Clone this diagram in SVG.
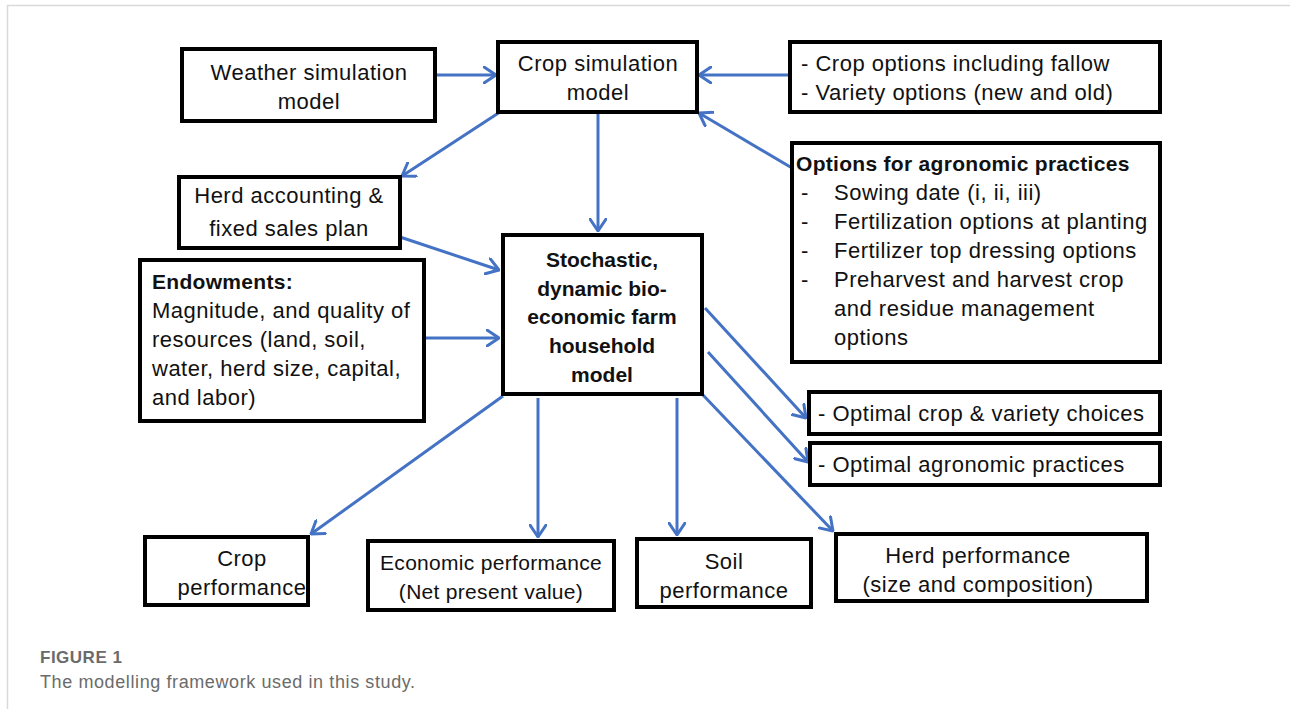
<svg xmlns="http://www.w3.org/2000/svg" width="1290" height="709" viewBox="0 0 1290 709">
<style>
.box{fill:#fff;stroke:#000;stroke-width:4}
.t{font-family:"Liberation Sans",Arial,sans-serif;font-size:22px;letter-spacing:0.5px;fill:#111}
.c{text-anchor:middle}
.b{font-weight:bold;font-size:21px;letter-spacing:0.3px}
.cb{font-weight:bold;font-size:21px;letter-spacing:0}
.conn line{stroke:#4472C4;stroke-width:3;marker-end:url(#ah)}
.cap{font-family:"Liberation Sans",Arial,sans-serif;fill:#6b6b6b}
</style>
<defs>
<marker id="ah" viewBox="0 0 14 18" refX="13" refY="9" markerWidth="14" markerHeight="18" markerUnits="userSpaceOnUse" orient="auto">
<path d="M1,1 L13,9 L1,17" fill="none" stroke="#4472C4" stroke-width="3" stroke-linecap="round" stroke-linejoin="round"/>
</marker>
</defs>
<rect width="1290" height="709" fill="#fff"/>
<path d="M7.5,709 V5.5 H1290" fill="none" stroke="#d9d9d9" stroke-width="1.5"/>

<g class="conn">
<line x1="435" y1="75" x2="496" y2="75"/>
<line x1="790" y1="75" x2="699" y2="75"/>
<line x1="792" y1="168" x2="699" y2="113"/>
<line x1="500" y1="112" x2="402" y2="176"/>
<line x1="598" y1="112" x2="598" y2="231"/>
<line x1="400" y1="237" x2="499" y2="270"/>
<line x1="424" y1="338" x2="499" y2="338"/>
<line x1="705" y1="308" x2="806" y2="418"/>
<line x1="708" y1="352" x2="808" y2="462"/>
<line x1="503" y1="396" x2="311" y2="534"/>
<line x1="538" y1="398" x2="538" y2="537"/>
<line x1="677" y1="398" x2="677" y2="535"/>
<line x1="702" y1="394" x2="833" y2="531"/>
</g>

<g id="weather">
<rect class="box" x="182" y="49" width="253" height="72"/>
<text class="t c" x="309" y="80">Weather simulation</text>
<text class="t c" x="309" y="109">model</text>
</g>

<g id="cropsim">
<rect class="box" x="498" y="42" width="199" height="70"/>
<text class="t c" x="598" y="71">Crop simulation</text>
<text class="t c" x="598" y="100">model</text>
</g>

<g id="cropopts">
<rect class="box" x="790" y="42" width="370" height="70"/>
<text class="t" x="801" y="71">- Crop options including fallow</text>
<text class="t" x="801" y="100">- Variety options (new and old)</text>
</g>

<g id="agro">
<rect class="box" x="792" y="143" width="368" height="219"/>
<text class="t b" x="796" y="171">Options for agronomic practices</text>
<text class="t" x="801" y="200">-</text><text class="t" x="834" y="200">Sowing date (i, ii, iii)</text>
<text class="t" x="801" y="229">-</text><text class="t" x="834" y="229">Fertilization options at planting</text>
<text class="t" x="801" y="258">-</text><text class="t" x="834" y="258">Fertilizer top dressing options</text>
<text class="t" x="801" y="287">-</text><text class="t" x="834" y="287">Preharvest and harvest crop</text>
<text class="t" x="834" y="316">and residue management</text>
<text class="t" x="834" y="345">options</text>
</g>

<g id="herdacc">
<rect class="box" x="179" y="177" width="221" height="71"/>
<text class="t c" x="289" y="203">Herd accounting &amp;</text>
<text class="t c" x="289" y="236">fixed sales plan</text>
</g>

<g id="endow">
<rect class="box" x="140" y="260" width="284" height="161"/>
<text class="t b" x="152" y="289">Endowments:</text>
<text class="t" x="152" y="318">Magnitude, and quality of</text>
<text class="t" x="152" y="347">resources (land, soil,</text>
<text class="t" x="152" y="376">water, herd size, capital,</text>
<text class="t" x="152" y="405">and labor)</text>
</g>

<g id="central">
<rect class="box" x="503" y="235" width="199" height="159"/>
<text class="t c cb" x="602" y="267">Stochastic,</text>
<text class="t c cb" x="602" y="296">dynamic bio-</text>
<text class="t c cb" x="602" y="324">economic farm</text>
<text class="t c cb" x="602" y="353">household</text>
<text class="t c cb" x="602" y="382">model</text>
</g>

<g id="optcrop">
<rect class="box" x="809" y="392" width="351" height="42"/>
<text class="t" x="818" y="421">- Optimal crop &amp; variety choices</text>
</g>

<g id="optagro">
<rect class="box" x="810" y="443" width="350" height="42"/>
<text class="t" x="818" y="472">- Optimal agronomic practices</text>
</g>

<g id="cropperf">
<rect class="box" x="145" y="537" width="163" height="68"/>
<text class="t c" x="242" y="566">Crop</text>
<text class="t c" x="242" y="595">performance</text>
</g>

<g id="econperf">
<rect class="box" x="368" y="541" width="246" height="69"/>
<text class="t c" x="491" y="570" style="font-size:21px;letter-spacing:0.3px">Economic performance</text>
<text class="t c" x="491" y="599" style="font-size:21px;letter-spacing:0.3px">(Net present value)</text>
</g>

<g id="soilperf">
<rect class="box" x="637" y="539" width="174" height="68"/>
<text class="t c" x="724" y="569">Soil</text>
<text class="t c" x="724" y="598">performance</text>
</g>

<g id="herdperf">
<rect class="box" x="836" y="534" width="311" height="67"/>
<text class="t c" x="978" y="563">Herd performance</text>
<text class="t c" x="978" y="592">(size and composition)</text>
</g>

<text class="cap" x="40" y="663" font-size="17" font-weight="bold" letter-spacing="0.5">FIGURE 1</text>
<text class="cap" x="40" y="688" font-size="18" letter-spacing="0.6">The modelling framework used in this study.</text>
</svg>
